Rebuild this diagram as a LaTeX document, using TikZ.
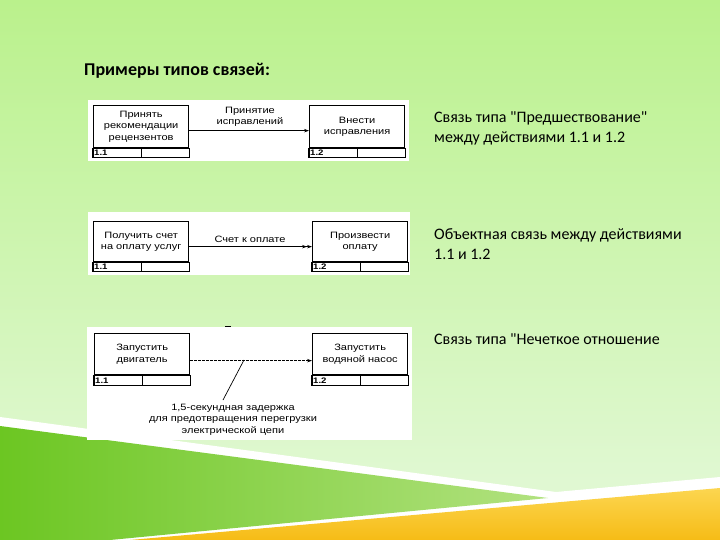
\documentclass[tikz,border=0pt]{standalone}
\usepackage{fontspec}
\setmainfont{Carlito}[Ligatures=TeXOff]
\newfontfamily\diagfont[FakeStretch=1.2]{Liberation Sans}
\usetikzlibrary{arrows.meta}
\definecolor{bgtop}{RGB}{186,241,140}
\definecolor{bgbot}{RGB}{224,248,210}
\definecolor{grL}{RGB}{108,198,34}
\definecolor{grR}{RGB}{178,226,128}
\definecolor{yeT}{RGB}{252,214,80}
\definecolor{yeB}{RGB}{246,188,22}
\begin{document}
\begin{tikzpicture}[x=1pt,y=-1pt,
  dfont/.style={font=\diagfont\fontsize{9.2}{11.5}\selectfont},
  actbox/.style={draw=black, line width=1.3pt, fill=white, minimum width=95pt,
    inner sep=1pt, align=center, anchor=north west, dfont},
  strip/.style={draw=black, line width=1.1pt},
  divline/.style={draw=black, line width=0.8pt},
  numlbl/.style={font=\diagfont\bfseries\fontsize{8}{9}\selectfont, inner sep=1pt, anchor=west},
  lbl/.style={align=center, inner sep=0pt, dfont},
  arr/.style={line width=0.8pt, -{Stealth[length=5pt,width=3.5pt]}},
  dblarr/.style={line width=0.8pt, -{Stealth[length=5pt,width=3.5pt]Stealth[length=5pt,width=3.5pt]}},
  dsharr/.style={line width=0.7pt, dash pattern=on 2.2pt off 1.8pt, -{Stealth[length=5pt,width=3.5pt]}},
  rtext/.style={align=left, anchor=north west, inner sep=0pt, font=\fontsize{16}{20.5}\selectfont},
]
\useasboundingbox (0,0) rectangle (720,540);
% background
\shade[top color=bgtop, bottom color=bgbot] (0,0) rectangle (720,480);
\fill[bgbot] (0,479) rectangle (720,540);
% bottom decoration
\fill[white] (0,417) -- (556,492) -- (720,477) -- (720,540) -- (0,540) -- cycle;
\shade[left color=grL, right color=grR] (0,426) -- (548,498) -- (110,540) -- (0,540) -- cycle;
\shade[top color=yeT, bottom color=yeB] (130,540) -- (720,488) -- (720,540) -- cycle;

% title
\node[anchor=north west, inner sep=0pt, font=\bfseries\fontsize{18}{21}\selectfont] (title) at (84,63) {Примеры типов связей:};

% panels
\fill[white] (88,100) rectangle (409,161);
\fill[white] (88,212) rectangle (410,275);
\fill[white] (87,327) rectangle (412,440);
\draw[line width=0.8pt] (225,326) -- (231,326);

% ---------- panel 1
\node[actbox, minimum height=42pt] (a1) at (93,105) {Принять\\рекомендации\\рецензентов};
\draw[strip] (a1.south west) rectangle ([yshift=-9pt]a1.south east);
\draw[divline] (a1.south) -- ([yshift=-9pt]a1.south);
\node[numlbl] (a1n) at ([yshift=-4.5pt]a1.south west) {1.1};
\node[actbox, minimum height=42pt] (b1) at (309,105) {Внести\\исправления};
\draw[strip] (b1.south west) rectangle ([yshift=-9pt]b1.south east);
\draw[divline] (b1.south) -- ([yshift=-9pt]b1.south);
\node[numlbl] (b1n) at ([yshift=-4.5pt]b1.south west) {1.2};
\draw[arr] ([yshift=-4pt]a1.east) -- ([yshift=-4pt]b1.west);
\node[lbl] (l1) at (250,117) {Принятие\\исправлений};

% ---------- panel 2
\node[actbox, minimum height=40pt] (a2) at (93,221) {Получить счет\\на оплату услуг};
\draw[strip] (a2.south west) rectangle ([yshift=-9pt]a2.south east);
\draw[divline] (a2.south) -- ([yshift=-9pt]a2.south);
\node[numlbl] (a2n) at ([yshift=-4.5pt]a2.south west) {1.1};
\node[actbox, minimum height=40pt] (b2) at (312,221) {Произвести\\оплату};
\draw[strip] (b2.south west) rectangle ([yshift=-9pt]b2.south east);
\draw[divline] (b2.south) -- ([yshift=-9pt]b2.south);
\node[numlbl] (b2n) at ([yshift=-4.5pt]b2.south west) {1.2};
\draw[dblarr] ([yshift=-5pt]a2.east) -- ([yshift=-5pt]b2.west);
\node[lbl] (l2) at (250,239) {Счет к оплате};

% ---------- panel 3
\node[actbox, minimum height=41pt] (a3) at (94,333) {Запустить\\двигатель};
\draw[strip] (a3.south west) rectangle ([yshift=-10pt]a3.south east);
\draw[divline] (a3.south) -- ([yshift=-10pt]a3.south);
\node[numlbl] (a3n) at ([yshift=-5pt]a3.south west) {1.1};
\node[actbox, minimum height=41pt] (b3) at (312,333) {Запустить\\водяной насос};
\draw[strip] (b3.south west) rectangle ([yshift=-10pt]b3.south east);
\draw[divline] (b3.south) -- ([yshift=-10pt]b3.south);
\node[numlbl] (b3n) at ([yshift=-5pt]b3.south west) {1.2};
\draw[dsharr] ([yshift=-6.5pt]a3.east) -- ([yshift=-6.5pt]b3.west);
\coordinate (c3) at (244,360);
\coordinate (c3b) at (223,400);
\draw[line width=0.7pt] (c3) -- (c3b);
\node[lbl, anchor=north] (l3) at (233,403.5) {1,5-секундная задержка\\для предотвращения перегрузки\\электрической цепи};

% right texts
\node[rtext] (r1) at (434,111) {Связь типа "Предшествование"\\между действиями 1.1 и 1.2};
\node[rtext] (r2) at (434,228) {Объектная связь между действиями\\1.1 и 1.2};
\node[rtext] (r3) at (434,333) {Связь типа "Нечеткое отношение};
\end{tikzpicture}
\end{document}
